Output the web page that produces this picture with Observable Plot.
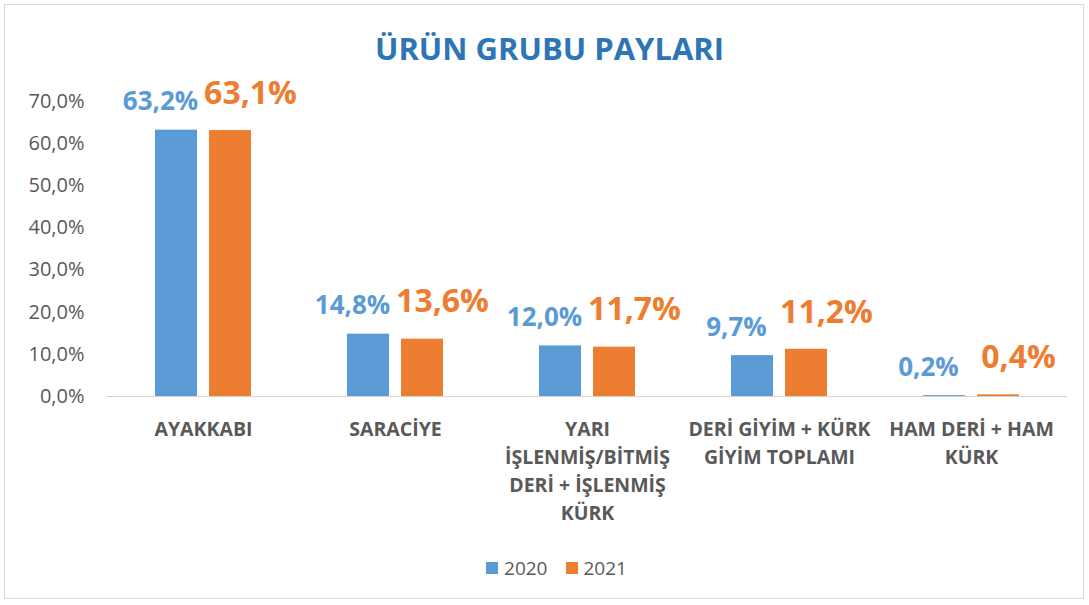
<!DOCTYPE html>
<html>
<head>
<meta charset="utf-8">
<script src="https://cdn.jsdelivr.net/npm/d3@7"></script>
<script src="https://cdn.jsdelivr.net/npm/@observablehq/plot@0.6"></script>
<style>
  html, body { margin: 0; padding: 0; background: #fff; }
  #wrap { position: relative; width: 1089px; height: 605px; overflow: hidden; font-family: 'Open Sans', sans-serif; }
  #frame { position: absolute; left: 4px; top: 4px; width: 1080px; height: 595px; border: 1px solid #d9d9d9; box-sizing: border-box; pointer-events: none; }
  #title { height: 75px; line-height: 96px; text-align: center; font-weight: 700; font-size: 31px; color: #2E75B6; padding-left: 10px; }
  #chart svg { display: block; }
  #legend { margin-top: 30px; display: flex; justify-content: center; align-items: center; gap: 0; font-size: 19px; color: #595959; padding-left: 24px; line-height: 24px; }
  .item { display: flex; align-items: center; margin: 0 9px; }
  .sw { width: 12px; height: 12px; margin-right: 6px; }
</style>
</head>
<body>
<div id="wrap">
  <div id="frame"></div>
  <div id="title">ÜRÜN GRUBU PAYLARI</div>
  <div id="chart"></div>
  <div id="legend"></div>
</div>
<script>
const categories = [
  "AYAKKABI",
  "SARACİYE",
  "YARI İŞLENMİŞ/BİTMİŞ DERİ + İŞLENMİŞ KÜRK",
  "DERİ GİYİM + KÜRK GİYİM TOPLAMI",
  "HAM DERİ + HAM KÜRK"
];
const categoryLabels = [
  "AYAKKABI",
  "SARACİYE",
  "YARI\nİŞLENMİŞ/BİTMİŞ\nDERİ + İŞLENMİŞ\nKÜRK",
  "DERİ GİYİM + KÜRK\nGİYİM TOPLAMI",
  "HAM DERİ + HAM\nKÜRK"
];
const years = ["2020", "2021"];
const values2020 = [63.2, 14.8, 12.0, 9.7, 0.2];
const values2021 = [63.1, 13.6, 11.7, 11.2, 0.4];
const yTicks = [0, 10, 20, 30, 40, 50, 60, 70];
const colors = ["#5B9BD5", "#ED7D31"];

const data = categories.flatMap((c, i) => [
  {category: c, year: years[0], value: values2020[i]},
  {category: c, year: years[1], value: values2021[i]}
]);

const fmt = v => v.toFixed(1).replace(".", ",") + "%";

const plot = Plot.plot({
  width: 1089,
  height: 451,
  marginTop: 26,
  marginBottom: 130,
  marginLeft: 105,
  marginRight: 21,
  style: {fontFamily: "'Open Sans', sans-serif", background: "transparent", overflow: "visible"},
  fx: {domain: categories, padding: 0, label: null},
  x: {domain: years, paddingInner: 0.22, paddingOuter: 0.86, axis: null},
  y: {domain: [0, 70], label: null},
  color: {domain: years, range: colors},
  marks: [
    Plot.axisY({ticks: yTicks, tickSize: 0, tickPadding: 23, tickFormat: fmt, fontSize: 20, fill: "#595959", label: null}),
    Plot.axisFx({anchor: "bottom", tickSize: 0, tickPadding: 19, tickFormat: c => categoryLabels[categories.indexOf(c)],
      fontSize: 19.5, fontWeight: "bold", fill: "#595959", lineAnchor: "top", lineHeight: 1.45, label: null}),
    Plot.ruleY([0], {stroke: "#d0d0d0", strokeWidth: 1}),
    Plot.barY(data, {fx: "category", x: "year", y: "value", fill: "year"}),
    Plot.text(data.filter(d => d.year === years[0]), {fx: "category", x: "year", y: "value", text: d => fmt(d.value),
      fill: colors[0], fontSize: 26, fontWeight: "bold", dy: -28, dx: -16}),
    Plot.text(data.filter(d => d.year === years[1]), {fx: "category", x: "year", y: "value", text: d => fmt(d.value),
      fill: colors[1], fontSize: 32, fontWeight: "bold", dy: -37, dx: 20})
  ]
});
document.getElementById("chart").appendChild(plot);

const legend = document.getElementById("legend");
years.forEach((y, i) => {
  const item = document.createElement("div");
  item.className = "item";
  const sw = document.createElement("div");
  sw.className = "sw";
  sw.style.background = colors[i];
  const t = document.createElement("span");
  t.textContent = y;
  item.appendChild(sw);
  item.appendChild(t);
  legend.appendChild(item);
});
</script>
</body>
</html>
